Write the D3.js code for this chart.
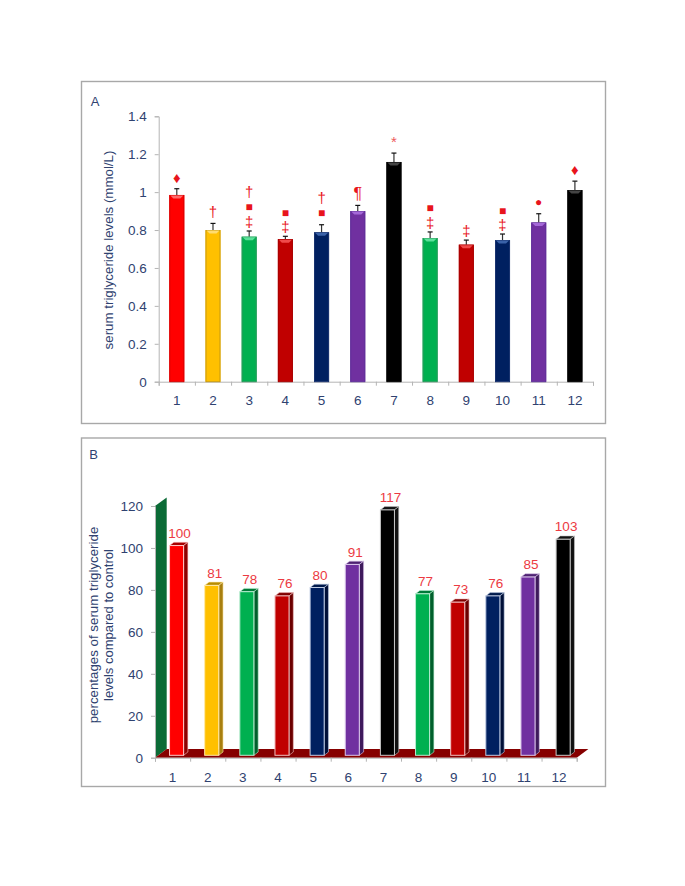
<!DOCTYPE html>
<html>
<head>
<meta charset="utf-8">
<script src="https://cdn.jsdelivr.net/npm/d3@7"></script>
<style>
  body { margin: 0; background: #fff; }
  text { font-family: "Liberation Sans", Arial, sans-serif; }
</style>
</head>
<body>
<svg id="svg" width="685" height="886"></svg>
<script>
// groups on the x axis
const groups = ["1", "2", "3", "4", "5", "6", "7", "8", "9", "10", "11", "12"];

// panel A
const meanLevels = [0.985, 0.80, 0.765, 0.752, 0.788, 0.90, 1.159, 0.758, 0.723, 0.747, 0.84, 1.011];
const errLevels = [0.033, 0.035, 0.03, 0.015, 0.04, 0.03, 0.047, 0.032, 0.024, 0.032, 0.046, 0.047];
// bottom symbol first
const sigMarks = [["♦"], ["†"], ["‡", "■", "†"], ["‡", "■"], ["■", "†"], ["¶"], ["*"], ["‡", "■"], ["‡"], ["‡", "■"], ["●"], ["♦"]];
const ticksA = [0, 0.2, 0.4, 0.6, 0.8, 1, 1.2, 1.4];

// panel B
const percentOfControl = [100, 81, 78, 76, 80, 91, 117, 77, 73, 76, 85, 103];
const ticksB = [0, 20, 40, 60, 80, 100, 120];

const colorNames = ["red", "yellow", "green", "darkred", "navy", "purple", "black", "green", "darkred", "navy", "purple", "black"];

const palette = {
    red: { front: "#ff0000", side: "#8f0000", top: "#a80000", edge: "#ffc8c8", hi: "#ff6a6a", dark: "#d80000" },
    yellow: { front: "#ffc000", side: "#a87f10", top: "#b88c00", edge: "#ffe9a8", hi: "#ffdc70", dark: "#c89a10" },
    green: { front: "#00b050", side: "#00602c", top: "#007a38", edge: "#b8ecd0", hi: "#5ce09a", dark: "#2a9a5c" },
    darkred: { front: "#c00000", side: "#6c0000", top: "#800000", edge: "#f2c0c0", hi: "#f04a4a", dark: "#a80000" },
    navy: { front: "#002060", side: "#001038", top: "#001a4c", edge: "#c0cce4", hi: "#3a62a8", dark: "#1a3470" },
    purple: { front: "#7030a0", side: "#3e1a5c", top: "#4e2272", edge: "#dcc8ec", hi: "#a468d8", dark: "#60309a" },
    black: { front: "#000000", side: "#111111", top: "#111111", edge: "#c8c8c8", hi: "#444444", dark: "#000000" }
};

const textBlue = "#2f4270";
const axisGray = "#b4b4b4";
const labelRed = "#ec3a42";

const svg = d3.select("#svg");

function drawFrame(x0, y0, x1, y1) {
    svg.append("rect")
        .attr("x", x0).attr("y", y0)
        .attr("width", x1 - x0).attr("height", y1 - y0)
        .attr("fill", "#fff")
        .attr("stroke", "#a8a8a8")
        .attr("stroke-width", 1.4);
}

function styleAxis(g) {
    g.selectAll("path, line").attr("stroke", axisGray).attr("stroke-width", 1);
    g.selectAll("text").attr("fill", textBlue).style("font-size", "13.5px");
}

// how far each symbol sits over the one below it
function markFontSize(mark) {
    if (mark === "■" || mark === "●") return "12px";
    if (mark === "¶") return "16px";
    return "15px";
}

function drawPanelA() {
    drawFrame(81.5, 81.5, 605.5, 423.5);

    const left = 158.7, right = 593, bottom = 381.7, top = 116.3;

    const x = d3.scaleBand().domain(groups).range([left, right])
        .paddingInner(0.585).paddingOuter(0.2925);
    const y = d3.scaleLinear().domain([0, 1.4]).range([bottom, top]);
    const xEdges = d3.scaleLinear().domain([0, groups.length]).range([left, right]);

    // y axis
    svg.append("g")
        .attr("transform", `translate(${left},0)`)
        .call(d3.axisLeft(y).tickValues(ticksA).tickSize(4).tickPadding(8).tickFormat(d => String(d)))
        .call(styleAxis);

    // ticks between groups
    svg.append("g")
        .attr("transform", `translate(0,${bottom})`)
        .call(d3.axisBottom(xEdges).ticks(groups.length).tickSize(4).tickSizeOuter(4).tickFormat(""))
        .call(styleAxis);

    // group labels
    const labels = svg.append("g")
        .attr("transform", `translate(0,${bottom})`)
        .call(d3.axisBottom(x).tickSize(0).tickPadding(14))
        .call(styleAxis);
    labels.select("path").remove();

    const bars = svg.append("g").selectAll("g")
        .data(groups)
        .enter().append("g");

    const color = (d, i) => palette[colorNames[i]];

    // error bars go under the bars
    bars.append("line")
        .attr("x1", d => x(d) + x.bandwidth() / 2)
        .attr("x2", d => x(d) + x.bandwidth() / 2)
        .attr("y1", (d, i) => y(meanLevels[i]))
        .attr("y2", (d, i) => y(meanLevels[i] + errLevels[i]))
        .attr("stroke", "#333")
        .attr("stroke-width", 1.2);
    bars.append("line")
        .attr("x1", d => x(d) + x.bandwidth() / 2 - 2.5)
        .attr("x2", d => x(d) + x.bandwidth() / 2 + 2.5)
        .attr("y1", (d, i) => y(meanLevels[i] + errLevels[i]))
        .attr("y2", (d, i) => y(meanLevels[i] + errLevels[i]))
        .attr("stroke", "#111")
        .attr("stroke-width", 1.2);

    bars.append("rect")
        .attr("x", d => x(d))
        .attr("width", x.bandwidth())
        .attr("y", (d, i) => y(meanLevels[i]))
        .attr("height", (d, i) => bottom - y(meanLevels[i]))
        .attr("fill", (d, i) => color(d, i).front);

    // darker rim left and right
    bars.append("rect")
        .attr("x", d => x(d) + 0.5)
        .attr("width", x.bandwidth() - 1)
        .attr("y", (d, i) => y(meanLevels[i]) + 0.5)
        .attr("height", (d, i) => bottom - y(meanLevels[i]) - 0.5)
        .attr("fill", "none")
        .attr("stroke", (d, i) => color(d, i).dark);

    // small bevel at the top of each bar
    bars.append("path")
        .attr("d", (d, i) => {
            const a = x(d), b = a + x.bandwidth(), t = y(meanLevels[i]);
            return `M${a + 1},${t + 0.5}L${b - 1},${t + 0.5}L${b - 4},${t + 3.5}L${a + 4},${t + 3.5}Z`;
        })
        .attr("fill", (d, i) => color(d, i).hi);

    // significance symbols stacked over the error bars
    bars.each(function (d, i) {
        let pos = y(meanLevels[i] + errLevels[i]) - (sigMarks[i][0] === "‡" ? 9.5 : 11.5);
        sigMarks[i].forEach((mark, k) => {
            if (k > 0) pos -= mark === "†" ? 16 : 14;
            d3.select(this).append("text")
                .attr("x", x(d) + x.bandwidth() / 2)
                .attr("y", pos)
                .attr("text-anchor", "middle")
                .attr("dominant-baseline", "central")
                .attr("fill", mark === "*" ? "#ee5a5a" : "#e8141c")
                .style("font-size", markFontSize(mark))
                .text(mark);
        });
    });

    svg.append("text")
        .attr("x", 95).attr("y", 106)
        .attr("text-anchor", "middle")
        .attr("fill", textBlue)
        .style("font-size", "13px")
        .text("A");

    svg.append("text")
        .attr("transform", "translate(108,250) rotate(-90)")
        .attr("text-anchor", "middle")
        .attr("dominant-baseline", "central")
        .attr("fill", textBlue)
        .style("font-size", "13.3px")
        .text("serum triglyceride levels (mmol/L)");
}

function drawPanelB() {
    drawFrame(81.5, 438, 605.5, 786.5);

    const left = 155, right = 576.7, bottom = 757.7, top = 506;
    const depthX = 11.7, depthY = 8.6;

    const x = d3.scaleBand().domain(groups).range([left, right])
        .paddingInner(0.6).paddingOuter(0.3);
    const y = d3.scaleLinear().domain([0, 120]).range([bottom, top]);
    const xEdges = d3.scaleLinear().domain([0, groups.length]).range([left, right]);

    // back wall
    svg.append("path")
        .attr("d", `M${left},${bottom}L${left},${top}L${left + depthX},${top - depthY}L${left + depthX},${bottom - depthY}Z`)
        .attr("fill", "#0b6b36");

    // floor
    svg.append("path")
        .attr("d", `M${left},${bottom}L${left + depthX},${bottom - depthY}L${right + depthX},${bottom - depthY}L${right},${bottom}Z`)
        .attr("fill", "#860000");

    svg.append("g")
        .attr("transform", `translate(${left},0)`)
        .call(d3.axisLeft(y).tickValues(ticksB).tickSize(4).tickPadding(8))
        .call(styleAxis);

    svg.append("g")
        .attr("transform", `translate(0,${bottom})`)
        .call(d3.axisBottom(xEdges).ticks(groups.length).tickSize(4).tickSizeOuter(4).tickFormat(""))
        .call(styleAxis);

    const labels = svg.append("g")
        .attr("transform", `translate(0,${bottom})`)
        .call(d3.axisBottom(x).tickSize(0).tickPadding(15))
        .call(styleAxis);
    labels.select("path").remove();

    // bars stand a little inside the floor
    const shiftX = 4, shiftY = 2.4, sideX = 4.3, sideY = 3.3;
    const bars = svg.append("g").selectAll("g")
        .data(groups)
        .enter().append("g");
    const color = (d, i) => palette[colorNames[i]];
    const xa = d => x(d) + shiftX;
    const xb = d => x(d) + shiftX + x.bandwidth();
    const ya = i => y(percentOfControl[i]) - shiftY;
    const yb = bottom - shiftY;

    // top face
    bars.append("path")
        .attr("d", (d, i) => `M${xa(d)},${ya(i)}L${xa(d) + sideX},${ya(i) - sideY}L${xb(d) + sideX},${ya(i) - sideY}L${xb(d)},${ya(i)}Z`)
        .attr("fill", (d, i) => color(d, i).top)
        .attr("stroke", (d, i) => color(d, i).edge)
        .attr("stroke-width", 0.6);

    // side face
    bars.append("path")
        .attr("d", (d, i) => `M${xb(d)},${ya(i)}L${xb(d) + sideX},${ya(i) - sideY}L${xb(d) + sideX},${yb - sideY}L${xb(d)},${yb}Z`)
        .attr("fill", (d, i) => color(d, i).side)
        .attr("stroke", (d, i) => color(d, i).edge)
        .attr("stroke-width", 0.6);

    // front face
    bars.append("rect")
        .attr("x", d => xa(d))
        .attr("width", x.bandwidth())
        .attr("y", (d, i) => ya(i))
        .attr("height", (d, i) => yb - ya(i))
        .attr("fill", (d, i) => color(d, i).front)
        .attr("stroke", (d, i) => color(d, i).edge)
        .attr("stroke-width", 1);

    bars.append("text")
        .attr("x", d => xa(d) + x.bandwidth() / 2 + 3)
        .attr("y", (d, i) => ya(i) - 12.4)
        .attr("text-anchor", "middle")
        .attr("dominant-baseline", "central")
        .attr("fill", labelRed)
        .style("font-size", "13.5px")
        .text((d, i) => percentOfControl[i]);

    svg.append("text")
        .attr("x", 93.5).attr("y", 459)
        .attr("text-anchor", "middle")
        .attr("fill", textBlue)
        .style("font-size", "13px")
        .text("B");

    svg.append("text")
        .attr("transform", "translate(93.5,625) rotate(-90)")
        .attr("text-anchor", "middle")
        .attr("dominant-baseline", "central")
        .attr("fill", textBlue)
        .style("font-size", "13.3px")
        .text("percentages of serum triglyceride");

    svg.append("text")
        .attr("transform", "translate(108.5,625) rotate(-90)")
        .attr("text-anchor", "middle")
        .attr("dominant-baseline", "central")
        .attr("fill", textBlue)
        .style("font-size", "13px")
        .text("levels compared to control");
}

drawPanelA();
drawPanelB();
</script>
</body>
</html>
